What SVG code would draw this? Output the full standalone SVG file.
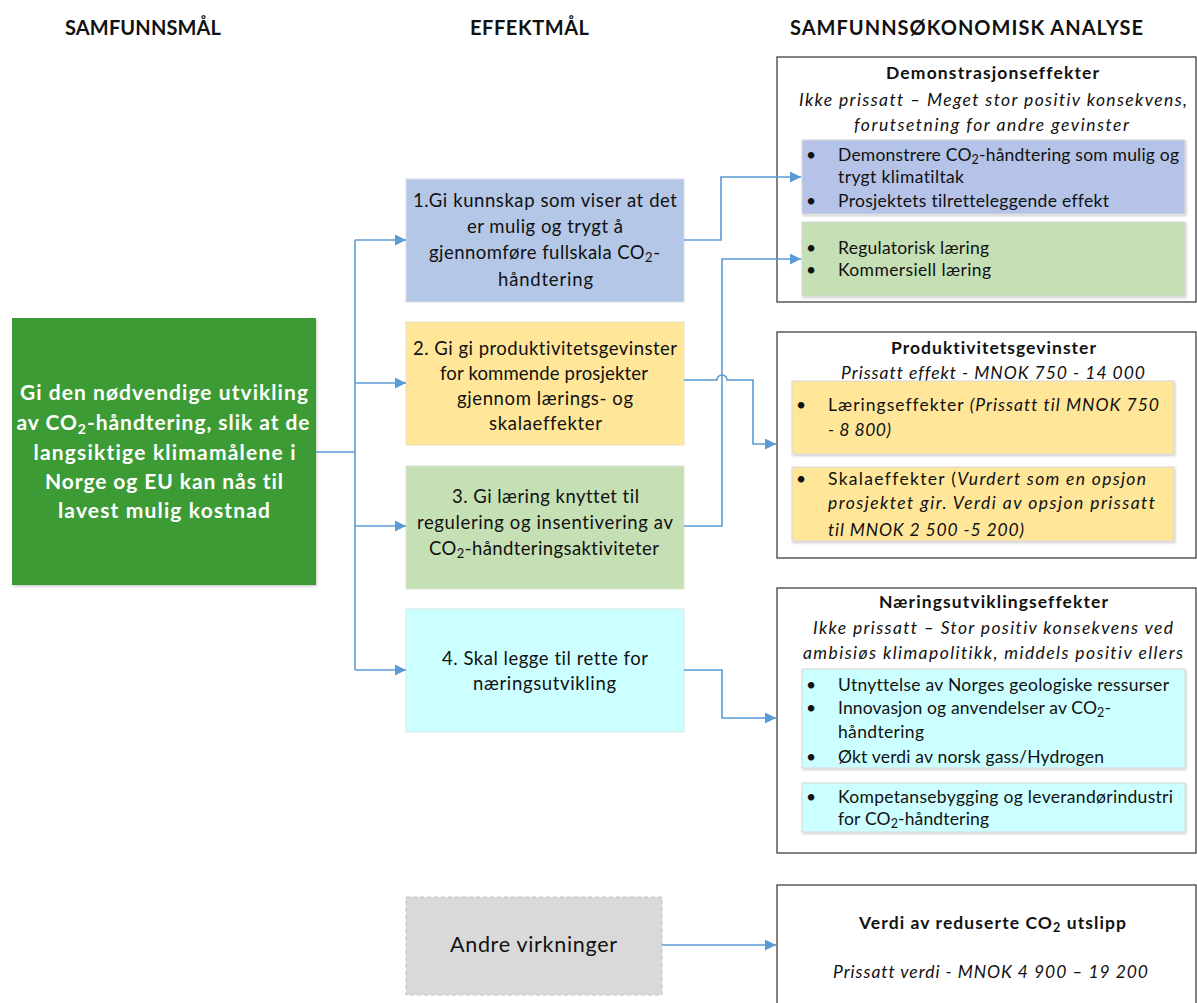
<svg xmlns="http://www.w3.org/2000/svg" width="1197" height="1003" viewBox="0 0 1197 1003">
<defs>
<style>
text{font-family:Lato,"Liberation Sans",sans-serif;fill:#111;font-size:17.5px;font-variant-ligatures:none}
.hdr{font-weight:bold;font-size:20px;text-anchor:middle}
.mid{font-size:18.5px;text-anchor:middle}
.c{text-anchor:middle}
.b{font-weight:bold}
.i{font-style:italic}
.goal{font-weight:bold;font-size:21px;fill:#fff;text-anchor:middle}
.frame{fill:#fff;stroke:#404040;stroke-width:1.3}
.sub{stroke:#d8d8d8;stroke-width:1;filter:url(#sh)}
.con{fill:none;stroke:#5b9bd5;stroke-width:1.6}
</style>
<filter id="sh" x="-5%" y="-5%" width="110%" height="115%">
<feDropShadow dx="1" dy="1.5" stdDeviation="1" flood-color="#000" flood-opacity="0.2"/>
</filter>
<marker id="arr" viewBox="0 0 10 10" refX="10" refY="5" markerWidth="13" markerHeight="11" markerUnits="userSpaceOnUse" orient="auto">
<path d="M0,0 L10,5 L0,10 z" fill="#5b9bd5"/>
</marker>
</defs>
<rect width="1197" height="1003" fill="#fff"/>

<g id="headers">
<text class="hdr" x="143" y="35" textLength="156">SAMFUNNSMÅL</text>
<text class="hdr" x="529.5" y="35" textLength="119">EFFEKTMÅL</text>
<text class="hdr" x="966.5" y="35" textLength="353">SAMFUNNSØKONOMISK ANALYSE</text>
</g>

<g id="goal">
<rect x="12" y="318" width="304" height="267" fill="#3e9b35" filter="url(#sh)"/>
<text class="goal" x="164" y="400" textLength="288">Gi den nødvendige utvikling</text>
<text class="goal" x="163" y="430" textLength="293">av CO<tspan font-size="14" dy="4">2</tspan><tspan dy="-4">-håndtering, slik at de</tspan></text>
<text class="goal" x="164.5" y="460" textLength="262">langsiktige klimamålene i</text>
<text class="goal" x="164" y="489" textLength="238">Norge og EU kan nås til</text>
<text class="goal" x="164" y="518" textLength="212">lavest mulig kostnad</text>
</g>

<g id="e1">
<rect x="406" y="179" width="278" height="123" fill="#b4c7e7" stroke="#d6dce5" stroke-width="1"/>
<text class="mid" x="545" y="207" textLength="264">1.Gi kunnskap som viser at det</text>
<text class="mid" x="545" y="233" textLength="156">er mulig og trygt å</text>
<text class="mid" x="544.5" y="259" textLength="231">gjennomføre fullskala CO<tspan font-size="13" dy="3">2</tspan><tspan dy="-3">-</tspan></text>
<text class="mid" x="545.5" y="286" textLength="95">håndtering</text>
</g>

<g id="e2">
<rect x="406" y="322" width="278" height="123" fill="#ffe699" stroke="#e8e0c0" stroke-width="1"/>
<text class="mid" x="545" y="355" textLength="264">2. Gi gi produktivitetsgevinster</text>
<text class="mid" x="544" y="380" textLength="208">for kommende prosjekter</text>
<text class="mid" x="545" y="405" textLength="176">gjennom lærings- og</text>
<text class="mid" x="545.5" y="430" textLength="113">skalaeffekter</text>
</g>

<g id="e3">
<rect x="406" y="466" width="278" height="123" fill="#c5e0b4" stroke="#d9e6d0" stroke-width="1"/>
<text class="mid" x="545.5" y="503" textLength="187">3. Gi læring knyttet til</text>
<text class="mid" x="545" y="529" textLength="256">regulering og insentivering av</text>
<text class="mid" x="544" y="555" textLength="230">CO<tspan font-size="13" dy="3">2</tspan><tspan dy="-3">-håndteringsaktiviteter</tspan></text>
</g>

<g id="e4">
<rect x="406" y="609" width="278" height="123" fill="#ccffff" stroke="#d0e8e8" stroke-width="1"/>
<text class="mid" x="545" y="665" textLength="206">4. Skal legge til rette for</text>
<text class="mid" x="544.5" y="690" textLength="143">næringsutvikling</text>
</g>

<g id="andre">
<rect x="406" y="897" width="256" height="98" fill="#d9d9d9" stroke="#c4c4c4" stroke-width="1" stroke-dasharray="4,3"/>
<text class="c" x="533.5" y="952" style="font-size:21.5px" textLength="167">Andre virkninger</text>
</g>

<g id="demo">
<rect class="frame" x="777" y="57" width="419" height="245"/>
<text class="c b" x="992.5" y="79" textLength="213">Demonstrasjonseffekter</text>
<text class="c i" x="993" y="106" textLength="388">Ikke prissatt – Meget stor positiv konsekvens,</text>
<text class="c i" x="991.5" y="131" textLength="275">forutsetning for andre gevinster</text>
<rect class="sub" x="802" y="140" width="383" height="74" fill="#b4c3e7"/>
<text x="806" y="161">•</text>
<text x="838" y="161" textLength="341">Demonstrere CO<tspan font-size="12.5" dy="3">2</tspan><tspan dy="-3">-håndtering som mulig og</tspan></text>
<text x="838" y="183" textLength="126">trygt klimatiltak</text>
<text x="806" y="207">•</text>
<text x="838" y="207" textLength="271">Prosjektets tilretteleggende effekt</text>
<rect class="sub" x="802" y="222" width="383" height="74" fill="#c5e0b4"/>
<text x="806" y="254">•</text>
<text x="838" y="254" textLength="151">Regulatorisk læring</text>
<text x="806" y="276">•</text>
<text x="838" y="276" textLength="153">Kommersiell læring</text>
</g>

<g id="prod">
<rect class="frame" x="777" y="332" width="419" height="226"/>
<text class="c b" x="993.5" y="354" textLength="205">Produktivitetsgevinster</text>
<text class="c i" x="993" y="379" textLength="304">Prissatt effekt - MNOK 750 - 14 000</text>
<rect class="sub" x="792" y="381" width="382" height="73" fill="#ffe699"/>
<text x="796" y="411">•</text>
<text x="828" y="411" textLength="331">Læringseffekter <tspan class="i">(Prissatt til MNOK 750</tspan></text>
<text class="i" x="828" y="436" textLength="63">- 8 800)</text>
<rect class="sub" x="792" y="467" width="382" height="74" fill="#ffe699"/>
<text x="796" y="485">•</text>
<text x="828" y="485" textLength="318">Skalaeffekter (<tspan class="i">Vurdert som en opsjon</tspan></text>
<text class="i" x="828" y="509" textLength="327">prosjektet gir. Verdi av opsjon prissatt</text>
<text class="i" x="828" y="536" textLength="196">til MNOK 2 500 -5 200)</text>
</g>

<g id="naering">
<rect class="frame" x="777" y="588" width="419" height="265"/>
<text class="c b" x="993.5" y="608" textLength="229">Næringsutviklingseffekter</text>
<text class="c i" x="993" y="634" textLength="360">Ikke prissatt – Stor positiv konsekvens ved</text>
<text class="c i" x="993" y="659" textLength="380">ambisiøs klimapolitikk, middels positiv ellers</text>
<rect class="sub" x="802" y="669" width="383" height="99" fill="#ccffff"/>
<text x="806" y="691">•</text>
<text x="838" y="691" textLength="331">Utnyttelse av Norges geologiske ressurser</text>
<text x="806" y="714">•</text>
<text x="838" y="714" textLength="273">Innovasjon og anvendelser av CO<tspan font-size="12.5" dy="3">2</tspan><tspan dy="-3">-</tspan></text>
<text x="838" y="738" textLength="86">håndtering</text>
<text x="806" y="763">•</text>
<text x="838" y="763" textLength="266">Økt verdi av norsk gass/Hydrogen</text>
<rect class="sub" x="802" y="783" width="383" height="49" fill="#ccffff"/>
<text x="806" y="803">•</text>
<text x="838" y="803" textLength="335">Kompetansebygging og leverandørindustri</text>
<text x="838" y="825" textLength="151">for CO<tspan font-size="12.5" dy="3">2</tspan><tspan dy="-3">-håndtering</tspan></text>
</g>

<g id="verdi">
<rect class="frame" x="777" y="885" width="419" height="125"/>
<text class="c b" x="992.5" y="929" textLength="267">Verdi av reduserte CO<tspan font-size="12.5" dy="3">2</tspan><tspan dy="-3"> utslipp</tspan></text>
<text class="c i" x="990.5" y="978" textLength="315">Prissatt verdi - MNOK 4 900 – 19 200</text>
</g>

<g id="connectors">
<path class="con" d="M316,452 L355,452"/>
<path class="con" d="M355,240 L355,670"/>
<path class="con" d="M355,240 L406,240" marker-end="url(#arr)"/>
<path class="con" d="M355,383 L406,383" marker-end="url(#arr)"/>
<path class="con" d="M355,526 L406,526" marker-end="url(#arr)"/>
<path class="con" d="M355,670 L406,670" marker-end="url(#arr)"/>
<path class="con" d="M684,240 L721,240 L721,177 L801,177" marker-end="url(#arr)"/>
<path class="con" d="M684,526 L722,526 L722,259 L801,259" marker-end="url(#arr)"/>
<path class="con" d="M684,380 L717,380 A5,5 0 0 1 727,380 L753,380 L753,444 L776,444" marker-end="url(#arr)"/>
<path class="con" d="M684,670 L722,670 L722,718 L776,718" marker-end="url(#arr)"/>
<path class="con" d="M662,945 L776,945" marker-end="url(#arr)"/>
</g>
</svg>
